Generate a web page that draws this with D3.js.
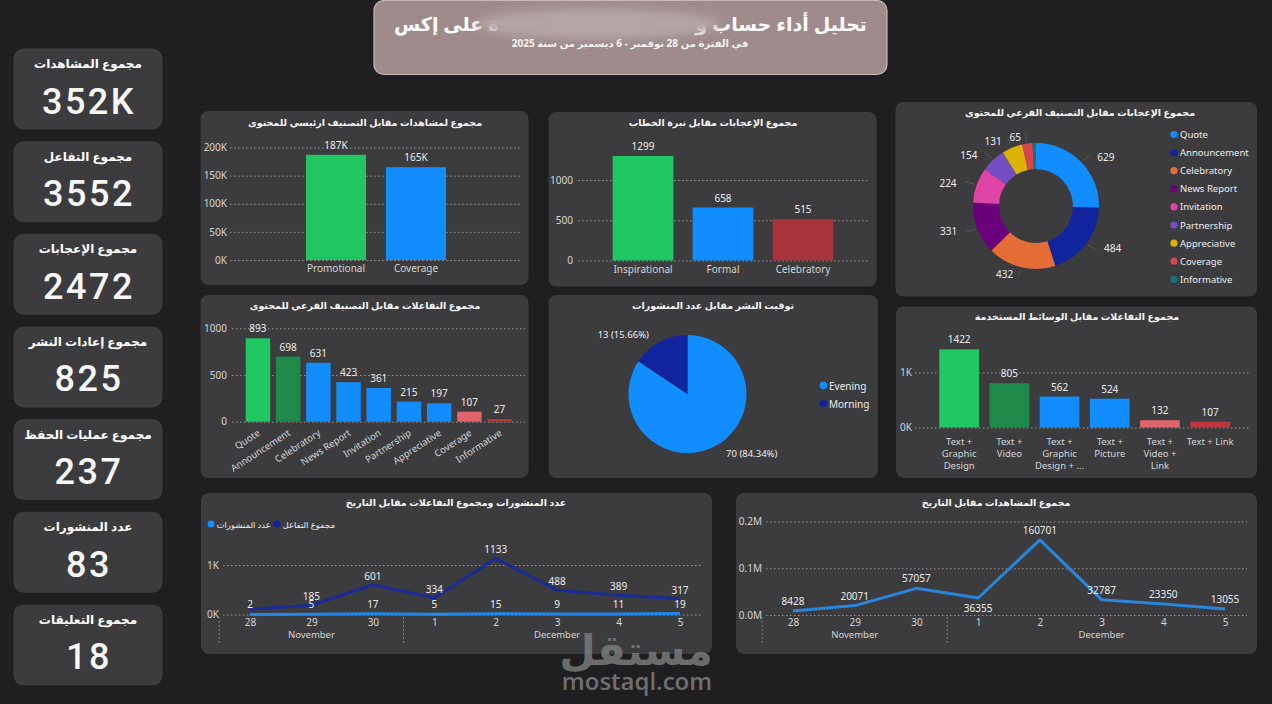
<!DOCTYPE html>
<html><head><meta charset="utf-8">
<script src="https://cdn.jsdelivr.net/npm/d3@7"></script>
<style>
html,body{margin:0;padding:0;background:#1f1f21;}
svg{display:block;font-family:"Noto Sans","DejaVu Sans",sans-serif;}
</style></head><body>
<svg id="c" width="1272" height="704"></svg>
<script>
// ---------------- DATA ----------------
const titleRight = "تحليل أداء حساب و";
const titleLeft = "ة على إكس";
const subtitle = "في الفترة من 28 نوفمبر - 6 ديسمبر من سنة 2025";

const kpiLabels = ["مجموع المشاهدات","مجموع التفاعل","مجموع الإعجابات","مجموع إعادات النشر","مجموع عمليات الحفظ","عدد المنشورات","مجموع التعليقات"];
const kpiValues = ["352K","3552","2472","825","237","83","18"];

const chartTitles = [
  "مجموع لمشاهدات مقابل التصنيف ارئيسي للمحتوى",
  "مجموع الإعجابات مقابل نبرة الخطاب",
  "مجموع الإعجابات مقابل التصنيف الفرعي للمحتوى",
  "مجموع التفاعلات مقابل التصنيف الفرعي للمحتوى",
  "توقيت النشر مقابل عدد المنشورات",
  "مجموع التفاعلات مقابل الوسائط المستخدمة",
  "عدد المنشورات ومجموع التفاعلات مقابل التاريخ",
  "مجموع المشاهدات مقابل التاريخ"
];

const mainCats = ["Promotional","Coverage"];
const mainViews = [187000,165000];
const mainViewLabels = ["187K","165K"];
const viewTicks = [0,50000,100000,150000,200000];

const toneCats = ["Inspirational","Formal","Celebratory"];
const toneLikes = [1299,658,515];
const toneTicks = [0,500,1000];

const subCats = ["Quote","Announcement","Celebratory","News Report","Invitation","Partnership","Appreciative","Coverage","Informative"];
const subLikes = [629,484,432,331,224,154,131,65,22];
const subEngagement = [893,698,631,423,361,215,197,107,27];
const engTicks = [0,500,1000];

const timeCats = ["Evening","Morning"];
const timePosts = [70,13];

const mediaCats = ["Text + Graphic Design","Text + Video","Text + Graphic Design + ...","Text + Picture","Text + Video + Link","Text + Link"];
const mediaLabelLines = [["Text +","Graphic","Design"],["Text +","Video"],["Text +","Graphic","Design + ..."],["Text +","Picture"],["Text +","Video +","Link"],["Text + Link"]];
const mediaEng = [1422,805,562,524,132,107];
const mediaTicks = [0,1000];

const days = ["28","29","30","1","2","3","4","5"];
const dayMonth = ["November","November","November","December","December","December","December","December"];
const months = ["November","December"];
const dailyPosts = [2,5,17,5,15,9,11,19];
const dailyEng = [105,185,601,334,1133,488,389,317];
const dailyViews = [8428,20071,57057,36355,160701,32787,23350,13055];
const kTicks = [0,1000];
const mTicks = [0,100000,200000];
const legendG = ["عدد المنشورات","مجموع التفاعل"];

// ---------------- STYLE ----------------
const C = {
  green:"#1fc862", dkgreen:"#1f8a4a", blue:"#118dff", navy:"#12239e",
  dkred:"#a7333b", lred:"#e1636c", red:"#bf343d",
  panel:"#3c3c3f", text:"#ececec", axis:"#d4d4d4", grid:"#959595"
};
const donutColors = ["#118dff","#12239e","#e66c37","#6b007b","#e044a7","#744ec2","#d9b300","#d64550","#197278"];
const subEngColors = [C.green,C.dkgreen,C.blue,C.blue,C.blue,C.blue,C.blue,C.lred,C.red];
const toneColors = [C.green,C.blue,C.dkred];
const mainColors = [C.green,C.blue];
const mediaColors = [C.green,C.dkgreen,C.blue,C.blue,C.lred,C.red];
const timeColors = [C.blue,C.navy];

const svg = d3.select("#c");
const FONT = '"Noto Sans","DejaVu Sans",sans-serif';

svg.append("rect").attr("width",1272).attr("height",704).attr("fill","#1f1f21");

function panel(x,y,w,h){
  svg.append("rect").attr("x",x).attr("y",y).attr("width",w).attr("height",h).attr("rx",8).attr("fill",C.panel);
}
function ptitle(x,y,t){
  svg.append("text").attr("x",x).attr("y",y).attr("text-anchor","middle").attr("dominant-baseline","central")
    .attr("font-size",9.5).attr("font-weight","bold").attr("fill","#f4f4f4").text(t);
}
function yAxis(scale,ticks,fmt,x0,x1,pad){
  const g = svg.append("g").attr("transform",`translate(${x0},0)`)
    .call(d3.axisLeft(scale).tickValues(ticks).tickFormat(fmt).tickSize(-(x1-x0)).tickPadding(pad));
  g.attr("font-family",FONT).attr("font-size",10);
  g.select(".domain").remove();
  g.selectAll("line").attr("stroke",C.grid).attr("stroke-dasharray","1.5,2.5");
  g.selectAll("text").attr("fill",C.axis);
  return g;
}
function xAxis(scale,y,pad){
  const g = svg.append("g").attr("transform",`translate(0,${y})`)
    .call(d3.axisBottom(scale).tickSize(0).tickPadding(pad));
  g.attr("font-family",FONT).attr("font-size",10);
  g.select(".domain").remove();
  g.selectAll("text").attr("fill",C.axis);
  return g;
}
function vlabel(x,y,t){
  svg.append("text").attr("x",x).attr("y",y).attr("text-anchor","middle").attr("dominant-baseline","central")
    .attr("font-size",10).attr("fill",C.text).text(t);
}

// ---------------- TITLE ----------------
const defs = svg.append("defs");
defs.append("filter").attr("id","blur").attr("x","-30%").attr("y","-50%").attr("width","160%").attr("height","200%")
  .append("feGaussianBlur").attr("stdDeviation",5);
svg.append("rect").attr("x",374).attr("y",0.5).attr("width",513).attr("height",74).attr("rx",10)
  .attr("fill","#9f8b8c").attr("stroke","#c9b8b8").attr("stroke-width",1.2);
svg.append("text").attr("x",867).attr("y",24).attr("text-anchor","end").attr("dominant-baseline","central")
  .attr("font-size",19).attr("font-weight","bold").attr("fill","#ffffff").text(titleRight);
svg.append("text").attr("x",394).attr("y",24).attr("text-anchor","start").attr("dominant-baseline","central")
  .attr("font-size",19).attr("font-weight","bold").attr("fill","#ffffff").text(titleLeft);
svg.append("ellipse").attr("cx",598).attr("cy",24).attr("rx",122).attr("ry",15)
  .attr("fill","#b5a6a6").attr("filter","url(#blur)");
svg.append("text").attr("x",630).attr("y",43).attr("text-anchor","middle").attr("dominant-baseline","central")
  .attr("direction","rtl").attr("font-size",10).attr("font-weight","bold").attr("fill","#f3f3f3").text(subtitle);

// ---------------- KPI CARDS ----------------
kpiLabels.forEach((lab,i)=>{
  const top = 48.5 + i*92.65;
  svg.append("rect").attr("x",13.5).attr("y",top).attr("width",149).attr("height",81).attr("rx",10).attr("fill","#3c3c3f");
  svg.append("text").attr("x",88).attr("y",top+15).attr("text-anchor","middle").attr("dominant-baseline","central")
    .attr("font-size",12).attr("font-weight","bold").attr("fill","#ffffff").text(lab);
  svg.append("text").attr("x",89).attr("y",top+53).attr("text-anchor","middle").attr("dominant-baseline","central")
    .attr("font-family","Roboto").attr("font-weight",500).attr("font-size",36).attr("letter-spacing",2.5)
    .attr("fill","#f7f7f7").text(kpiValues[i]);
});

// ---------------- A: views by main category ----------------
panel(200.5,111,328,174);
ptitle(365,122,chartTitles[0]);
{
  const x = d3.scaleBand().domain(mainCats).range([296,456]).paddingInner(0.25).paddingOuter(0.125);
  const y = d3.scaleLinear().domain([0,200000]).range([260,147.5]);
  yAxis(y,viewTicks,d=>d/1000+"K",230,520,3);
  svg.selectAll(null).data(mainViews).join("rect")
    .attr("x",(d,i)=>x(mainCats[i])).attr("y",d=>y(d)).attr("width",x.bandwidth()).attr("height",d=>y(0)-y(d))
    .attr("fill",(d,i)=>mainColors[i]);
  mainViews.forEach((d,i)=>vlabel(x(mainCats[i])+x.bandwidth()/2,y(d)-10,mainViewLabels[i]));
  xAxis(x,260,5);
}

// ---------------- B: likes by tone ----------------
panel(548.5,112,328,174.5);
ptitle(713,122,chartTitles[1]);
{
  const x = d3.scaleBand().domain(toneCats).range([603,843]).paddingInner(0.24).paddingOuter(0.12);
  const y = d3.scaleLinear().domain([0,1000]).range([260.5,180]);
  yAxis(y,toneTicks,d=>d,578,870,5);
  svg.selectAll(null).data(toneLikes).join("rect")
    .attr("x",(d,i)=>x(toneCats[i])).attr("y",d=>y(d)).attr("width",x.bandwidth()).attr("height",d=>y(0)-y(d))
    .attr("fill",(d,i)=>toneColors[i]);
  toneLikes.forEach((d,i)=>vlabel(x(toneCats[i])+x.bandwidth()/2,y(d)-10,d));
  xAxis(x,260.5,5);
}

// ---------------- C: donut likes by sub category ----------------
panel(895.5,102,361.5,194.5);
ptitle(1080,112,chartTitles[2]);
{
  const cx=1036, cy=206, R=63, r=37;
  const total = d3.sum(subLikes);
  const pie = d3.pie().sort(null).value(d=>d)(subLikes);
  const arc = d3.arc().innerRadius(r).outerRadius(R);
  const g = svg.append("g").attr("transform",`translate(${cx},${cy})`);
  g.selectAll("path").data(pie).join("path").attr("d",arc).attr("fill",(d,i)=>donutColors[i]);
  pie.forEach((p,i)=>{
    if (p.value/total < 0.015) return;
    const a = (p.startAngle+p.endAngle)/2;
    const s = Math.sin(a), c = Math.cos(a);
    svg.append("line").attr("x1",cx+(R+2)*s).attr("y1",cy-(R+2)*c).attr("x2",cx+(R+12)*s).attr("y2",cy-(R+10)*c)
      .attr("stroke","#8a8a8a").attr("stroke-opacity",0.45).attr("stroke-width",0.8);
    const lx = cx + 80*s + (s>=0?4:-4);
    const ly = cy - 70*c;
    svg.append("text").attr("x",lx).attr("y",ly).attr("text-anchor",s>=0?"start":"end").attr("dominant-baseline","central")
      .attr("font-size",10).attr("fill",C.text).text(p.value);
  });
  subCats.forEach((cat,i)=>{
    const ly = 134.5 + i*18.1;
    svg.append("circle").attr("cx",1174).attr("cy",ly).attr("r",3.6).attr("fill",donutColors[i]);
    svg.append("text").attr("x",1180).attr("y",ly).attr("dominant-baseline","central").attr("font-size",9.5)
      .attr("fill",C.text).text(cat);
  });
}

// ---------------- D: engagement by sub category ----------------
panel(200.5,295,328,183);
ptitle(365,305,chartTitles[3]);
{
  const x = d3.scaleBand().domain(subCats).range([242.7,514.8]).paddingInner(0.19).paddingOuter(0.1);
  const y = d3.scaleLinear().domain([0,1000]).range([421.7,328.3]);
  yAxis(y,engTicks,d=>d,232,525,5);
  svg.selectAll(null).data(subEngagement).join("rect")
    .attr("x",(d,i)=>x(subCats[i])).attr("y",d=>y(d)).attr("width",x.bandwidth()).attr("height",d=>y(0)-y(d))
    .attr("fill",(d,i)=>subEngColors[i]);
  subEngagement.forEach((d,i)=>vlabel(x(subCats[i])+x.bandwidth()/2,y(d)-10,d));
  const g = xAxis(x,421.7,0);
  g.selectAll("text").attr("y",0).attr("dy",null).attr("text-anchor","end").attr("dominant-baseline","central")
    .attr("font-size",9.5).attr("transform","translate(1,10) rotate(-33)");
}

// ---------------- E: pie posting time ----------------
panel(548.5,295,329.5,183);
ptitle(713,305,chartTitles[4]);
{
  const cx=687.5, cy=394, R=59;
  const total = d3.sum(timePosts);
  const pie = d3.pie().sort(null).value(d=>d)(timePosts);
  const arc = d3.arc().innerRadius(0).outerRadius(R);
  const g = svg.append("g").attr("transform",`translate(${cx},${cy})`);
  g.selectAll("path").data(pie).join("path").attr("d",arc).attr("fill",(d,i)=>timeColors[i]);
  const pf = d3.format(".2%");
  pie.forEach((p,i)=>{
    const a = (p.startAngle+p.endAngle)/2;
    const s = Math.sin(a), c = Math.cos(a);
    const lx = cx + (R+10)*s + (s>=0?6:-6);
    const ly = cy - (R+8)*c;
    svg.append("text").attr("x",lx).attr("y",ly).attr("text-anchor",s>=0?"start":"end").attr("dominant-baseline","central")
      .attr("font-size",9.5).attr("fill",C.text).text(`${p.value} (${pf(p.value/total)})`);
  });
  timeCats.forEach((cat,i)=>{
    const ly = 385.5 + i*18;
    svg.append("circle").attr("cx",823.5).attr("cy",ly).attr("r",3.8).attr("fill",timeColors[i]);
    svg.append("text").attr("x",829).attr("y",ly).attr("dominant-baseline","central").attr("font-size",10)
      .attr("fill",C.text).text(cat);
  });
}

// ---------------- F: engagement by media ----------------
panel(896,306.5,361,171.5);
ptitle(1077,316,chartTitles[5]);
{
  const x = d3.scaleBand().domain(mediaCats).range([934.3,1235]).paddingInner(0.21).paddingOuter(0.1);
  const y = d3.scaleLinear().domain([0,1000]).range([427.5,372.5]);
  yAxis(y,mediaTicks,d=>d/1000+"K",915,1250,3);
  svg.selectAll(null).data(mediaEng).join("rect")
    .attr("x",(d,i)=>x(mediaCats[i])).attr("y",d=>y(d)).attr("width",x.bandwidth()).attr("height",d=>y(0)-y(d))
    .attr("fill",(d,i)=>mediaColors[i]);
  mediaEng.forEach((d,i)=>vlabel(x(mediaCats[i])+x.bandwidth()/2,y(d)-10,d));
  const g = xAxis(x,427.5,0);
  g.selectAll("text").each(function(d,i){
    const t = d3.select(this).text("").attr("y",0).attr("dy",null).attr("font-size",9.5);
    mediaLabelLines[i].forEach((ln,j)=>{
      t.append("tspan").attr("x",0).attr("y",14+j*12).attr("dominant-baseline","central").text(ln);
    });
  });
}

// ---------------- G: posts & engagement by date ----------------
panel(201,493,511,161);
ptitle(456,502,chartTitles[6]);
{
  const x = d3.scalePoint().domain(days).range([250,680]);
  const y = d3.scaleLinear().domain([0,1000]).range([614.5,565]);
  yAxis(y,kTicks,d=>d/1000+"K",223,702,4);
  // legend
  svg.append("circle").attr("cx",211).attr("cy",524).attr("r",3.5).attr("fill",C.blue);
  svg.append("text").attr("x",216.5).attr("y",524).attr("dominant-baseline","central").attr("font-size",8.5).attr("fill",C.text).text(legendG[0]);
  svg.append("circle").attr("cx",277).attr("cy",524).attr("r",3.5).attr("fill",C.navy);
  svg.append("text").attr("x",282.5).attr("y",524).attr("dominant-baseline","central").attr("font-size",8.5).attr("fill",C.text).text(legendG[1]);
  const line = d3.line().x((d,i)=>x(days[i])).y(d=>y(d));
  svg.append("path").datum(dailyEng).attr("d",line).attr("fill","none").attr("stroke","#1a2a96").attr("stroke-width",3).attr("stroke-linejoin","round");
  svg.append("path").datum(dailyPosts).attr("d",line).attr("fill","none").attr("stroke","#1f88ea").attr("stroke-width",3).attr("stroke-linejoin","round");
  dailyPosts.forEach((d,i)=>vlabel(x(days[i]),y(d)-10,d));
  dailyEng.forEach((d,i)=>{
    const ly = y(d)-9, py = y(dailyPosts[i])-10;
    if (Math.abs(ly-py) < 6) return;
    vlabel(x(days[i]),ly,d);
  });
  xAxis(x,614.5,4);
  const step = x.step();
  months.forEach(m=>{
    const xs = days.filter((d,i)=>dayMonth[i]===m).map(d=>x(d));
    svg.append("text").attr("x",d3.mean(xs)).attr("y",634.5).attr("text-anchor","middle").attr("dominant-baseline","central")
      .attr("font-size",9.5).attr("fill",C.axis).text(m);
    const sx = d3.min(xs)-step/2;
    svg.append("line").attr("x1",sx).attr("x2",sx).attr("y1",617).attr("y2",645)
      .attr("stroke",C.grid).attr("stroke-dasharray","1.5,2.5");
  });
}

// ---------------- H: views by date ----------------
panel(736,493,521,161);
ptitle(996,502,chartTitles[7]);
{
  const x = d3.scalePoint().domain(days).range([793,1225]);
  const y = d3.scaleLinear().domain([0,200000]).range([615,521.5]);
  yAxis(y,mTicks,d=>d3.format(".1f")(d/1e6)+"M",766,1247,4);
  const line = d3.line().x((d,i)=>x(days[i])).y(d=>y(d));
  svg.append("path").datum(dailyViews).attr("d",line).attr("fill","none").attr("stroke","#2a86dd").attr("stroke-width",3).attr("stroke-linejoin","round");
  dailyViews.forEach((d,i)=>{
    const localMin = i>0 && i<dailyViews.length-1 && d<dailyViews[i-1] && d<dailyViews[i+1];
    vlabel(x(days[i]), localMin ? y(d)+10 : y(d)-10, d);
  });
  xAxis(x,615,4);
  const step = x.step();
  months.forEach(m=>{
    const xs = days.filter((d,i)=>dayMonth[i]===m).map(d=>x(d));
    svg.append("text").attr("x",d3.mean(xs)).attr("y",634.5).attr("text-anchor","middle").attr("dominant-baseline","central")
      .attr("font-size",9.5).attr("fill",C.axis).text(m);
    const sx = d3.min(xs)-step/2;
    svg.append("line").attr("x1",sx).attr("x2",sx).attr("y1",617).attr("y2",645)
      .attr("stroke",C.grid).attr("stroke-dasharray","1.5,2.5");
  });
}

// ---------------- watermark ----------------
svg.append("text").attr("x",636).attr("y",648).attr("text-anchor","middle").attr("dominant-baseline","central")
  .attr("font-size",42).attr("font-weight","bold").attr("fill","#7a7a7a").attr("fill-opacity",0.85).text("مستقل");
svg.append("text").attr("x",637).attr("y",680).attr("text-anchor","middle").attr("dominant-baseline","central")
  .attr("font-family","Open Sans").attr("font-size",24).attr("font-weight",600).attr("fill","#6f6f6f").text("mostaql.com");
</script>
</body></html>
